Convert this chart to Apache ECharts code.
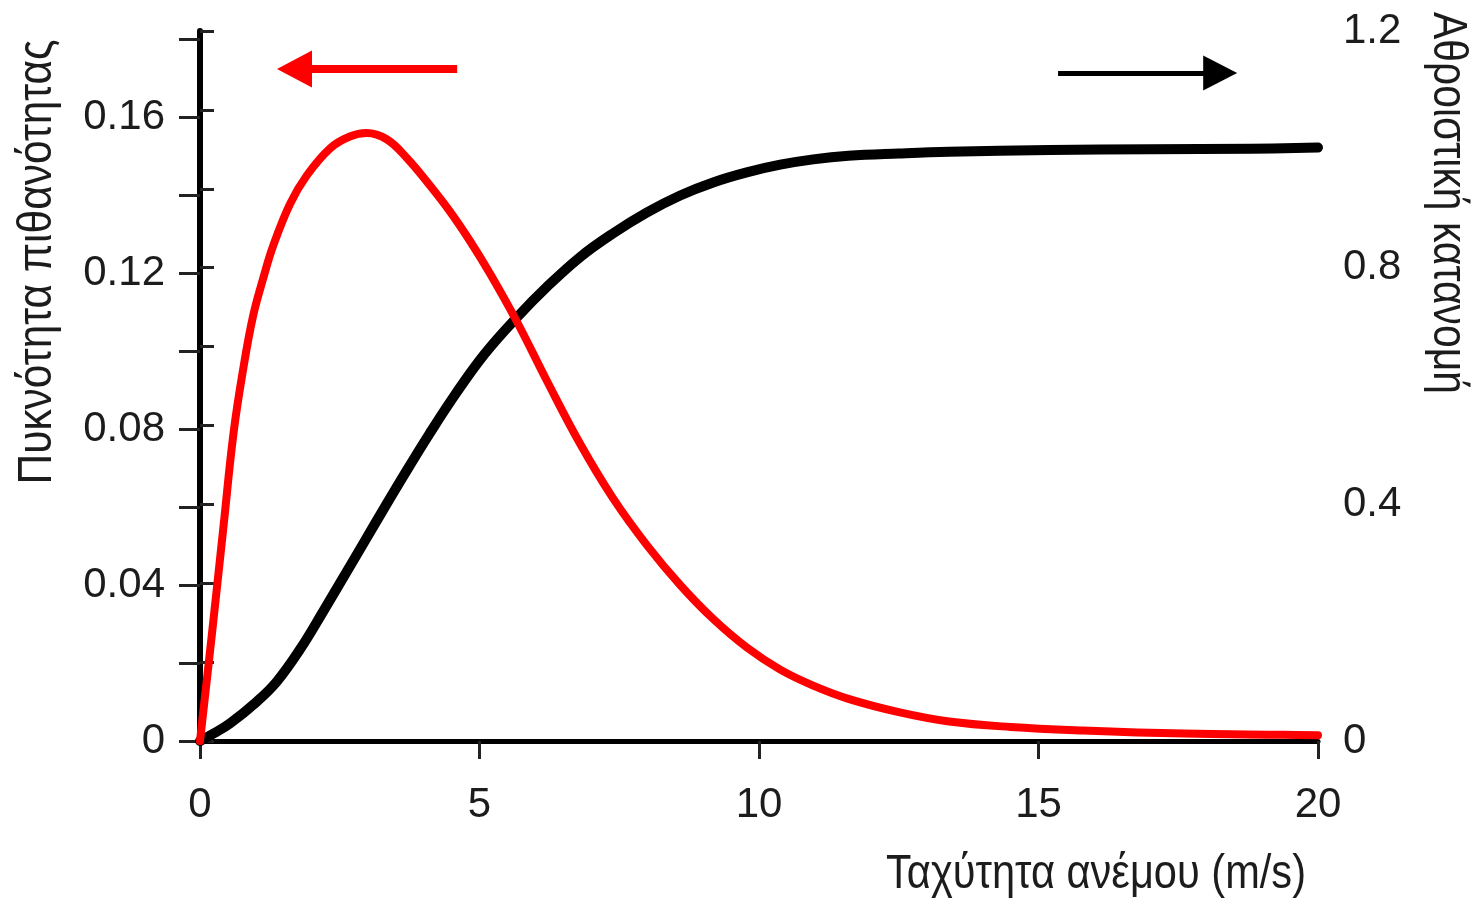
<!DOCTYPE html>
<html>
<head>
<meta charset="utf-8">
<script src="https://cdn.jsdelivr.net/npm/echarts@6/dist/echarts.min.js"></script>
<style>
  html, body { margin: 0; padding: 0; background: #ffffff; }
  #chart { width: 1480px; height: 900px; }
</style>
</head>
<body>
<div id="chart"></div>
<script>
// ---- data ----
var pdfSpeed = [0, 0.21, 0.42, 0.6, 0.78, 0.95, 1.13, 1.31, 1.61, 1.91, 2.33, 2.68, 2.98, 3.34, 3.7, 4.11, 4.47, 4.83, 5.19, 5.67, 6.2, 6.8, 7.39, 7.99, 8.59, 9.18, 9.78, 10.38, 10.97, 11.6, 12.5, 13.4, 14.5, 15.8, 17.6, 19.4, 20];
var pdfValues = [0, 0.027, 0.055, 0.079, 0.096, 0.109, 0.1186, 0.127, 0.1377, 0.145, 0.152, 0.155, 0.1559, 0.1543, 0.1495, 0.1425, 0.1358, 0.1282, 0.1198, 0.1075, 0.0925, 0.0762, 0.0622, 0.0503, 0.04, 0.0313, 0.024, 0.0183, 0.0142, 0.0108, 0.0074, 0.005, 0.0036, 0.0027, 0.0019, 0.0016, 0.0015];

var cdfSpeed = [0, 0.25, 0.54, 1.01, 1.37, 1.79, 2.21, 2.68, 3.16, 3.64, 4.11, 4.59, 5.1, 5.67, 6.2, 6.8, 7.39, 7.99, 8.59, 9.18, 9.78, 10.38, 10.97, 11.6, 12.5, 13.4, 15.2, 17, 18.8, 20];
var cdfValues = [0, 0.013, 0.03, 0.066, 0.1, 0.155, 0.22, 0.295, 0.372, 0.448, 0.52, 0.589, 0.655, 0.716, 0.767, 0.818, 0.858, 0.893, 0.922, 0.944, 0.961, 0.974, 0.983, 0.989, 0.993, 0.996, 0.999, 1.0, 1.001, 1.003];

var xTicks = [0, 5, 10, 15, 20];
var leftLabels = [0, 0.04, 0.08, 0.12, 0.16];
var rightLabels = [0, 0.4, 0.8, 1.2];

var xTitle = 'Ταχύτητα ανέμου (m/s)';
var leftTitle = 'Πυκνότητα πιθανότητας';
var rightTitle = 'Αθροιστική κατανομή';

// arrows (data coordinates): [fromX, toX, y]
var pdfArrow = [4.6, 1.69, 0.1723];
var cdfArrow = [15.35, 18.25, 1.129];

function zip(xs, ys) { return xs.map(function (x, i) { return [x, ys[i]]; }); }

var FONT = "'Liberation Sans', Arial, sans-serif";
var TXT = '#1c1c1c';

// horizontal squeeze factor so each title spans the same length as in the reference
var measureCtx = document.createElement('canvas').getContext('2d');
function squeeze(text, size, target) {
  measureCtx.font = size + 'px ' + FONT;
  var w = measureCtx.measureText(text).width;
  return w > 0 ? target / w : 1;
}

var chart = echarts.init(document.getElementById('chart'), null, { renderer: 'canvas' });

function fmt(list, digits) {
  return function (v) {
    for (var i = 0; i < list.length; i++) {
      if (Math.abs(list[i] - v) < 1e-6) return list[i] === 0 ? '0' : list[i].toFixed(digits);
    }
    return '';
  };
}

var option = {
  backgroundColor: '#ffffff',
  animation: false,
  grid: [
    { left: 200, right: 162, top: 39, bottom: 159, containLabel: false },
    { left: 200, right: 162, top: 31, bottom: 159, containLabel: false }
  ],
  xAxis: [
    {
      type: 'value', gridIndex: 0, min: xTicks[0], max: xTicks[xTicks.length - 1], interval: 5,
      axisLine: { show: true, onZero: false, lineStyle: { color: '#000', width: 5 } },
      axisTick: { show: true, inside: false, length: 18, lineStyle: { color: '#222', width: 3 } },
      axisLabel: { show: true, margin: 43, fontSize: 42, fontFamily: FONT, color: TXT,
        formatter: fmt(xTicks, 0) },
      splitLine: { show: false }
    },
    {
      type: 'value', gridIndex: 1, min: 0, max: 20, show: false,
      splitLine: { show: false }
    }
  ],
  yAxis: [
    {
      type: 'value', gridIndex: 0, position: 'left', min: 0, max: 0.18, interval: 0.02,
      axisLine: { show: true, lineStyle: { color: '#000', width: 5 } },
      axisTick: { show: true, inside: false, length: 21, lineStyle: { color: '#222', width: 3 } },
      axisLabel: { show: true, margin: 35, fontSize: 42, fontFamily: FONT, color: TXT,
        formatter: fmt(leftLabels, 2) },
      splitLine: { show: false }
    },
    {
      type: 'value', gridIndex: 1, position: 'right', min: 0, max: 1.2, interval: 0.4,
      axisLine: { show: true, lineStyle: { color: '#000', width: 6 } },
      axisTick: { show: true, inside: false, length: 14, lineStyle: { color: '#222', width: 3 } },
      minorTick: { show: true, splitNumber: 3, length: 14, lineStyle: { color: '#222', width: 3 } },
      axisLabel: { show: true, margin: 25, fontSize: 42, fontFamily: FONT, color: TXT,
        formatter: fmt(rightLabels, 1) },
      splitLine: { show: false },
      minorSplitLine: { show: false }
    }
  ],
  series: [
    {
      name: rightTitle, type: 'line', xAxisIndex: 1, yAxisIndex: 1,
      data: zip(cdfSpeed, cdfValues),
      showSymbol: false, smooth: 0.4, clip: false,
      lineStyle: { color: '#000000', width: 10, cap: 'round', join: 'round' },
      z: 3,
      markLine: {
        silent: true, animation: false,
        symbol: ['none', 'triangle'], symbolSize: [35, 34],
        label: { show: false },
        lineStyle: { color: '#000000', width: 5, type: 'solid' },
        emphasis: { disabled: true },
        data: [[{ coord: [cdfArrow[0], cdfArrow[2]] }, { coord: [cdfArrow[1], cdfArrow[2]] }]]
      }
    },
    {
      name: leftTitle, type: 'line', xAxisIndex: 0, yAxisIndex: 0,
      data: zip(pdfSpeed, pdfValues),
      showSymbol: false, smooth: 0.4, clip: false,
      lineStyle: { color: '#ff0000', width: 8, cap: 'round', join: 'round' },
      z: 4,
      markLine: {
        silent: true, animation: false,
        symbol: ['none', 'triangle'], symbolSize: [37, 35],
        label: { show: false },
        lineStyle: { color: '#ff0000', width: 8, type: 'solid' },
        emphasis: { disabled: true },
        data: [[{ coord: [pdfArrow[0], pdfArrow[2]] }, { coord: [pdfArrow[1], pdfArrow[2]] }]]
      }
    }
  ],
  graphic: [
    {
      type: 'text', x: 38, y: 262, rotation: Math.PI / 2,
      scaleX: squeeze(leftTitle, 48, 445),
      style: { text: leftTitle, fontSize: 48, fontFamily: FONT, fill: TXT, align: 'center', verticalAlign: 'middle' }
    },
    {
      type: 'text', x: 1447, y: 203, rotation: -Math.PI / 2,
      scaleX: squeeze(rightTitle, 48, 382),
      style: { text: rightTitle, fontSize: 48, fontFamily: FONT, fill: TXT, align: 'center', verticalAlign: 'middle' }
    },
    {
      type: 'text', x: 1306, y: 875,
      scaleX: squeeze(xTitle, 48, 420),
      style: { text: xTitle, fontSize: 48, fontFamily: FONT, fill: TXT, align: 'right', verticalAlign: 'middle' }
    }
  ]
};

chart.setOption(option);
</script>
</body>
</html>
